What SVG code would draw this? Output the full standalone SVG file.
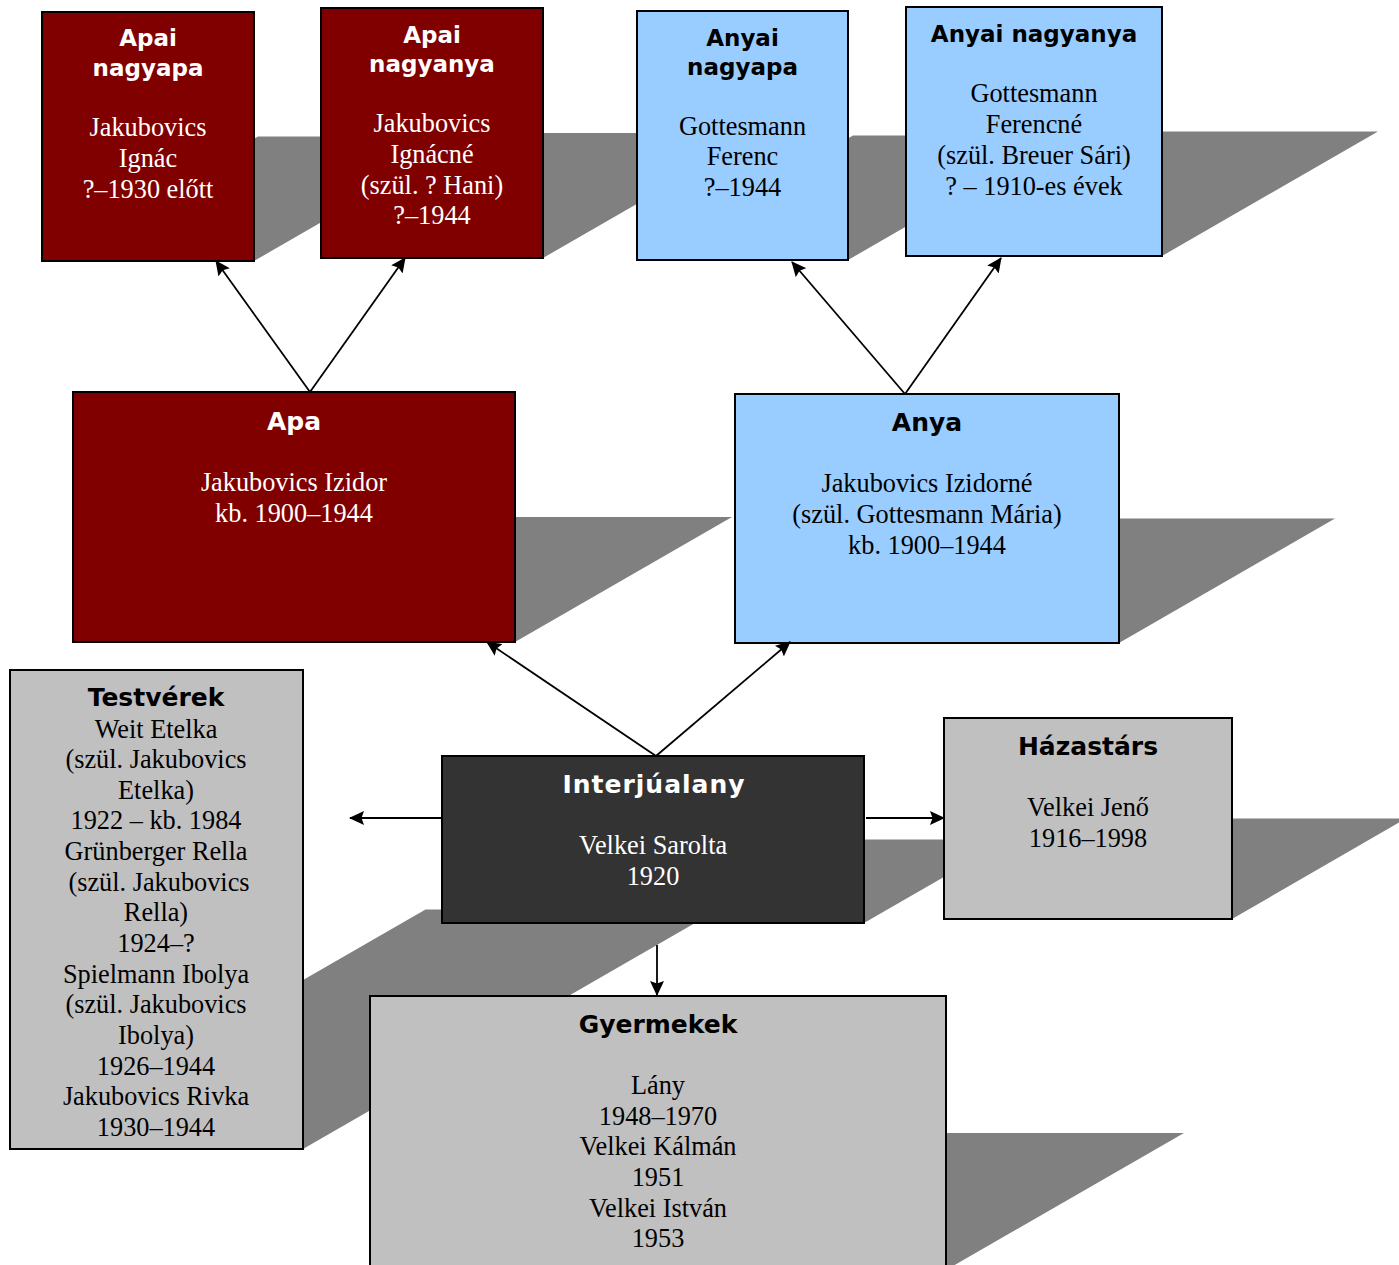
<svg xmlns="http://www.w3.org/2000/svg" width="1399" height="1265" viewBox="0 0 1399 1265">
<style>
.sh{fill:#808080;stroke:none}
.box{stroke:#000;stroke-width:2}
.red{fill:#800000}
.blue{fill:#99CCFF}
.dark{fill:#333333}
.grey{fill:#C0C0C0}
.t{font-family:"DejaVu Sans",Verdana,sans-serif;font-weight:bold;text-anchor:middle}
.t23{font-size:23px}
.t26{font-size:25px}
.b{font-family:"Liberation Serif","Times New Roman",serif;font-size:26.3px;text-anchor:middle}
.w{fill:#fff}
.k{fill:#000}
.c{stroke:#000;stroke-width:1.8;fill:none;marker-end:url(#ah)}
</style>
<defs>
<marker id="ah" viewBox="0 0 15 14" refX="14" refY="7" markerWidth="15" markerHeight="14" markerUnits="userSpaceOnUse" orient="auto">
<path d="M0,0 L15,7 L0,14 L2.5,7 z" fill="#000"/>
</marker>
</defs>
<rect width="1399" height="1265" fill="#fff"/>
<g id="shadows">
<polygon class="sh" points="42,261 254,261 470,136.5 258,136.5"/>
<polygon class="sh" points="321,258 543,258 760,133 538,133"/>
<polygon class="sh" points="637,260 848,260 1064,135.5 853,135.5"/>
<polygon class="sh" points="906,256 1162,256 1378,131.5 1122,131.5"/>
<polygon class="sh" points="73,642 515,642 732,517 290,517"/>
<polygon class="sh" points="735,643 1119,643 1335,518.5 951,518.5"/>
<polygon class="sh" points="10,1149 303,1149 718.5,909.5 425.5,909.5"/>
<polygon class="sh" points="442,923 864,923 1009,839.5 587,839.5"/>
<polygon class="sh" points="944,919 1232,919 1406,818.5 1118,818.5"/>
<polygon class="sh" points="370,1270 946,1270 1184,1133 608,1133"/>
</g>
<g id="apai-nagyapa">
<rect class="box red" x="42" y="12" width="212" height="249"/>
<text class="t t23 w" x="148" y="46">Apai</text>
<text class="t t23 w" x="148" y="76">nagyapa</text>
<text class="b w" x="148" y="136">Jakubovics</text>
<text class="b w" x="148" y="167">Ignác</text>
<text class="b w" x="148" y="198">?–1930 előtt</text>
</g>
<g id="apai-nagyanya">
<rect class="box red" x="321" y="8" width="222" height="250"/>
<text class="t t23 w" x="432" y="43">Apai</text>
<text class="t t23 w" x="432" y="72">nagyanya</text>
<text class="b w" x="432" y="132">Jakubovics</text>
<text class="b w" x="432" y="163">Ignácné</text>
<text class="b w" x="432" y="194">(szül. ? Hani)</text>
<text class="b w" x="432" y="224">?–1944</text>
</g>
<g id="anyai-nagyapa">
<rect class="box blue" x="637" y="11" width="211" height="249"/>
<text class="t t23 k" x="742.5" y="46">Anyai</text>
<text class="t t23 k" x="742.5" y="75">nagyapa</text>
<text class="b k" x="742.5" y="135">Gottesmann</text>
<text class="b k" x="742.5" y="165">Ferenc</text>
<text class="b k" x="742.5" y="196">?–1944</text>
</g>
<g id="anyai-nagyanya">
<rect class="box blue" x="906" y="7" width="256" height="249"/>
<text class="t t23 k" x="1034" y="42">Anyai nagyanya</text>
<text class="b k" x="1034" y="102">Gottesmann</text>
<text class="b k" x="1034" y="133">Ferencné</text>
<text class="b k" x="1034" y="164">(szül. Breuer Sári)</text>
<text class="b k" x="1034" y="195">? – 1910-es évek</text>
</g>
<g id="apa">
<rect class="box red" x="73" y="392" width="442" height="250"/>
<text class="t t26 w" x="294" y="430">Apa</text>
<text class="b w" x="294" y="491">Jakubovics Izidor</text>
<text class="b w" x="294" y="522">kb. 1900–1944</text>
</g>
<g id="anya">
<rect class="box blue" x="735" y="394" width="384" height="249"/>
<text class="t t26 k" x="927" y="431">Anya</text>
<text class="b k" x="927" y="492">Jakubovics Izidorné</text>
<text class="b k" x="927" y="523">(szül. Gottesmann Mária)</text>
<text class="b k" x="927" y="554">kb. 1900–1944</text>
</g>
<g id="testverek">
<rect class="box grey" x="10" y="670" width="293" height="479"/>
<text class="t t26 k" x="156" y="706">Testvérek</text>
<text class="b k" x="156" y="738">Weit Etelka</text>
<text class="b k" x="156" y="768">(szül. Jakubovics</text>
<text class="b k" x="156" y="799">Etelka)</text>
<text class="b k" x="156" y="829">1922 – kb. 1984</text>
<text class="b k" x="156" y="860">Grünberger Rella</text>
<text class="b k" x="159" y="891">(szül. Jakubovics</text>
<text class="b k" x="156" y="921">Rella)</text>
<text class="b k" x="156" y="952">1924–?</text>
<text class="b k" x="156" y="983">Spielmann Ibolya</text>
<text class="b k" x="156" y="1013">(szül. Jakubovics</text>
<text class="b k" x="156" y="1044">Ibolya)</text>
<text class="b k" x="156" y="1075">1926–1944</text>
<text class="b k" x="156" y="1105">Jakubovics Rivka</text>
<text class="b k" x="156" y="1136">1930–1944</text>
</g>
<g id="interjualany">
<rect class="box dark" x="442" y="756" width="422" height="167"/>
<text class="t t26 w" x="654" y="793" letter-spacing="1">Interjúalany</text>
<text class="b w" x="653" y="854">Velkei Sarolta</text>
<text class="b w" x="653" y="885">1920</text>
</g>
<g id="hazastars">
<rect class="box grey" x="944" y="718" width="288" height="201"/>
<text class="t t26 k" x="1088" y="755">Házastárs</text>
<text class="b k" x="1088" y="816">Velkei Jenő</text>
<text class="b k" x="1088" y="847">1916–1998</text>
</g>
<g id="gyermekek">
<rect class="box grey" x="370" y="996" width="576" height="274"/>
<text class="t t26 k" x="658" y="1033">Gyermekek</text>
<text class="b k" x="658" y="1094">Lány</text>
<text class="b k" x="658" y="1125">1948–1970</text>
<text class="b k" x="658" y="1155">Velkei Kálmán</text>
<text class="b k" x="658" y="1186">1951</text>
<text class="b k" x="658" y="1217">Velkei István</text>
<text class="b k" x="658" y="1247">1953</text>
</g>
<g id="connectors">
<line class="c" x1="310" y1="392" x2="216" y2="261"/>
<line class="c" x1="310" y1="392" x2="405" y2="258"/>
<line class="c" x1="905" y1="394" x2="792" y2="262"/>
<line class="c" x1="905" y1="394" x2="1001" y2="258"/>
<line class="c" x1="656" y1="756" x2="487" y2="642"/>
<line class="c" x1="656" y1="756" x2="790" y2="642"/>
<line class="c" x1="442" y1="818" x2="350" y2="818"/>
<line class="c" x1="866" y1="818" x2="944" y2="818"/>
<line class="c" x1="657" y1="945" x2="657" y2="995"/>
</g>
</svg>
